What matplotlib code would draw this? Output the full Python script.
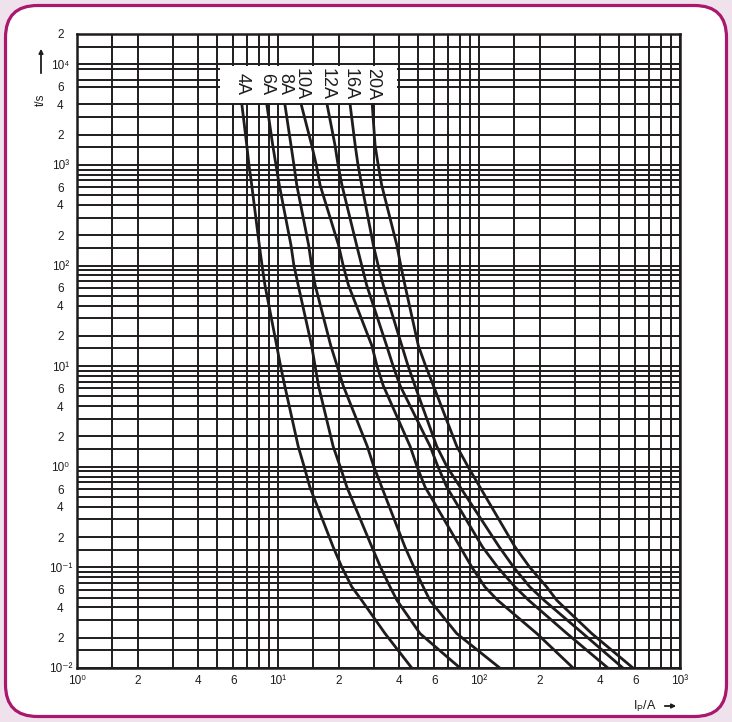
import matplotlib
matplotlib.use('Agg')
import matplotlib.pyplot as plt
from matplotlib.patches import FancyBboxPatch, Rectangle

plt.rcParams['font.family'] = ['Liberation Sans Narrow', 'Liberation Sans', 'DejaVu Sans']
plt.rcParams['mathtext.fontset'] = 'custom'
plt.rcParams['mathtext.rm'] = 'Liberation Sans Narrow'

# time axis points shared by all curves (s)
t_s = [4100, 1580, 1000, 630, 160, 100, 64, 16, 10, 6.4, 1.6, 1, 0.63, 0.16, 0.1, 0.064, 0.047, 0.022, 0.01]

# prospective current (A)
i_4a = [6.60, 6.99, 7.17, 7.40, 8.07, 8.33, 8.61, 9.85, 10.3, 10.8, 12.6, 13.5, 14.4, 18.8, 20.8, 23.3, 26.1, 34.1, 46.3]
i_6a = [8.78, 9.41, 9.77, 10.15, 11.6, 12.0, 12.6, 14.7, 15.3, 15.9, 18.8, 20.4, 22.0, 29.3, 32.4, 36.1, 39.1, 50.9, 80.5]
i_8a = [10.8, 11.6, 12.0, 12.4, 14.2, 14.7, 15.3, 18.3, 19.7, 21.1, 27.8, 30.0, 32.8, 42.8, 47.5, 52.8, 57.0, 77.5, 127]
i_10a = [13.0, 14.7, 15.5, 16.2, 20.0, 21.1, 22.4, 29.3, 31.1, 33.4, 45.4, 49.2, 53.9, 80.5, 92.3, 107, 124, 194, 294]
i_12a = [17.5, 19.2, 19.9, 20.8, 24.6, 26.1, 27.6, 34.7, 37.4, 40.5, 57.1, 62.5, 69.1, 104, 124, 151, 177, 274, 438]
i_16a = [22.8, 24.2, 25.0, 26.1, 29.8, 31.5, 33.4, 41.3, 44.4, 48.0, 61.6, 69.3, 80.5, 126, 149, 179, 211, 329, 520]
i_20a = [29.4, 30.4, 31.5, 32.8, 39.0, 40.8, 42.8, 49.9, 54.3, 59.3, 77.5, 88.2, 101, 151, 179, 217, 244, 364, 584]

fuse_names = ['4A', '6A', '8A', '10A', '12A', '16A', '20A']
fuse_curves = [i_4a, i_6a, i_8a, i_10a, i_12a, i_16a, i_20a]

x_ticks = [1, 2, 4, 6, 10, 20, 40, 60, 100, 200, 400, 600, 1000]
x_labels = ['10⁰', '2', '4', '6', '10¹', '2', '4', '6', '10²', '2', '4', '6', '10³']
y_ticks = [0.01, 0.02, 0.04, 0.06, 0.1, 0.2, 0.4, 0.6, 1, 2, 4, 6, 10, 20, 40, 60,
           100, 200, 400, 600, 1000, 2000, 4000, 6000, 10000, 20000]
y_labels = ['10⁻²', '2', '4', '6', '10⁻¹', '2', '4', '6', '10⁰', '2', '4', '6',
            '10¹', '2', '4', '6', '10²', '2', '4', '6', '10³', '2', '4', '6', '10⁴', '2']

# grid of the printed log paper
mant = [1, 1.5, 2, 3, 4, 5, 6, 7, 8, 9]
grid_x = [m * 10.0 ** k for k in range(0, 3) for m in mant] + [1000]
grid_y = [m * 10.0 ** k for k in range(-2, 5) for m in mant
          if not (k == 3 and m in (5, 8)) and m * 10.0 ** k <= 20000]

ink = '#1f1c1d'

fig = plt.figure(figsize=(7.32, 7.22), dpi=100, facecolor='#f0e2ec')
frame = FancyBboxPatch((0.055, 0.055), 7.32 - 0.11, 7.22 - 0.11,
                       boxstyle='round,pad=0,rounding_size=0.32',
                       transform=fig.dpi_scale_trans, fc='white', ec='#a9186c', lw=2.3, zorder=-5)
fig.add_artist(frame)

ax = fig.add_axes([77 / 732, (722 - 668) / 722, (680 - 77) / 732, (668 - 34) / 722])
ax.set_xscale('log')
ax.set_yscale('log')
ax.set_xlim(1, 1000)
ax.set_ylim(0.01, 20000)

ax.vlines(grid_x, 0, 1, transform=ax.get_xaxis_transform(), colors=ink, lw=1.4, zorder=1)
ax.hlines(grid_y, 0, 1, transform=ax.get_yaxis_transform(), colors=ink, lw=1.4, zorder=1)

# white box behind the curve labels
ax.add_patch(Rectangle((5.12, 4100), 39.3 - 5.12, 9550 - 4100, fc='white', ec='none', zorder=2))

for name, cur in zip(fuse_names, fuse_curves):
    ax.plot(cur, t_s, color=ink, lw=2.0, zorder=3, solid_capstyle='butt', solid_joinstyle='round')
    ax.text(cur[0], 6300, name, rotation=-90, ha='center', va='center',
            fontsize=13, color=ink, zorder=4)

ax.xaxis.set_minor_locator(plt.NullLocator())
ax.yaxis.set_minor_locator(plt.NullLocator())
ax.set_xticks(x_ticks, labels=x_labels)
ax.set_yticks(y_ticks, labels=y_labels)
ax.tick_params(axis='both', length=0, labelsize=8.5, colors=ink)
ax.tick_params(axis='x', pad=5)
ax.tick_params(axis='y', pad=12)
for lab in ax.get_yticklabels():
    lab.set_horizontalalignment('center')
for sp in ax.spines.values():
    sp.set_color(ink)
    sp.set_linewidth(1.8)

# axis captions with arrows
fig.text(41 / 732, 1 - 100 / 722, 't/s', rotation=90, ha='center', va='center', fontsize=8.5, color=ink)
ax.annotate('', xy=(41 / 732, 1 - 46 / 722), xytext=(41 / 732, 1 - 76 / 722),
            xycoords='figure fraction', textcoords='figure fraction',
            arrowprops=dict(arrowstyle='-|>', color=ink, lw=1.3, mutation_scale=6))
fig.text(657 / 732, 1 - 706 / 722, r'I$_\mathregular{P}$/A', ha='right', va='center', fontsize=9, color=ink)
ax.annotate('', xy=(679 / 732, 1 - 706 / 722), xytext=(662 / 732, 1 - 706 / 722),
            xycoords='figure fraction', textcoords='figure fraction',
            arrowprops=dict(arrowstyle='-|>', color=ink, lw=1.3, mutation_scale=6))

fig.savefig('out.png', dpi=100, facecolor=fig.get_facecolor())
